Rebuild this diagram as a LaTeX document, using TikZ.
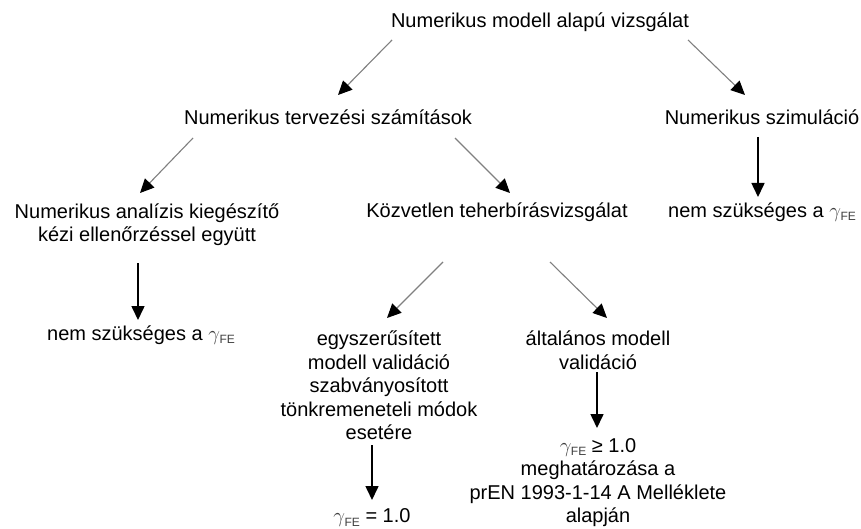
\documentclass[tikz,border=0pt]{standalone}
\usepackage{fontspec}
\setmainfont{Liberation Sans}
\usetikzlibrary{arrows.meta,calc}
\newcommand{\gfe}{{\color{black!75}$\gamma$\kern-0.5pt\raisebox{-0.3ex}{\fontsize{12}{12}\selectfont FE}}}
\begin{document}
\begin{tikzpicture}[x=1pt,y=-1pt,
  lbl/.style={font=\fontsize{20}{23.5}\selectfont, align=center, inner sep=0pt, text=black},
  diag/.style={draw=black!50, line width=1.1pt, -{Triangle[length=14pt,width=13pt,color=black]}},
  vert/.style={draw=black, line width=1.6pt, -{Triangle[length=14pt,width=13pt]}}]
\fill[white] (0,0) rectangle (861,529);
\useasboundingbox (0,0) rectangle (861,529);

\node[lbl] (top)  at (540,22)    {Numerikus modell alapú vizsgálat};
\node[lbl] (terv) at (328,117)   {Numerikus tervezési számítások};
\node[lbl] (szim) at (762,117)   {Numerikus szimuláció};
\node[lbl] (anal) at (147,224.5) {Numerikus analízis kiegészítő\\kézi ellenőrzéssel együtt};
\node[lbl] (kozv) at (497,212)   {Közvetlen teherbírásvizsgálat};
\node[lbl] (nem2) at (762,212)   {nem szükséges a \gfe};
\node[lbl] (nem1) at (141,335)   {nem szükséges a \gfe};
\node[lbl] (egy)  at (379,385.5) {egyszerűsített\\modell validáció\\szabványosított\\tönkremeneteli módok\\esetére};
\node[lbl] (alt)  at (598,350)   {általános modell\\validáció};
\node[lbl] (g1)   at (372,518)   {\gfe{} = 1.0};
\node[lbl] (g2)   at (598,482.5) {\gfe{} ≥ 1.0\\meghatározása a\\prEN 1993-1-14 A Melléklete\\alapján};

\draw[diag] ($(top)+(-148,18)$) -- ($(terv)+(10,-22)$);
\draw[diag] ($(top)+(148,18)$)  -- ($(szim)+(-17,-22)$);
\draw[diag] ($(terv)+(-135,21)$) -- ($(anal)+(-7,-31.5)$);
\draw[diag] ($(terv)+(127,21)$)  -- ($(kozv)+(13,-19)$);
\draw[vert] ($(szim)+(-4,20)$)  -- ($(nem2)+(-4,-15)$);
\draw[vert] ($(anal)+(-9,38.5)$) -- ($(nem1)+(-3,-15)$);
\draw[diag] ($(kozv)+(-54,50)$) -- ($(egy)+(8,-67.5)$);
\draw[diag] ($(kozv)+(53,50)$)  -- ($(alt)+(9,-32)$);
\draw[vert] ($(egy)+(-7,59.5)$) -- ($(g1)+(0,-18)$);
\draw[vert] ($(alt)+(-1,22)$)   -- ($(g2)+(-1,-54.5)$);
\end{tikzpicture}
\end{document}
